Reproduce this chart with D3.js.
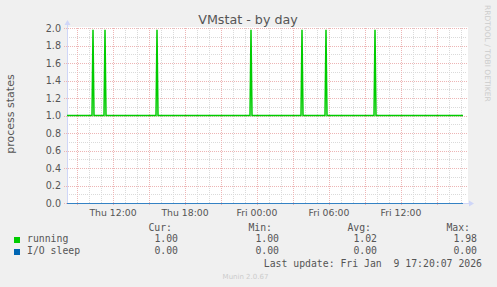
<!DOCTYPE html>
<html>
<head>
<meta charset="utf-8">
<script src="https://cdn.jsdelivr.net/npm/d3@7"></script>
<style>
  html, body { margin: 0; padding: 0; background: #F0F0F0; }
  svg { display: block; }
</style>
</head>
<body>
<svg id="chart" width="497" height="287"></svg>
<script>
// ---- data ----
const title = "VMstat - by day";
const yAxisLabel = "process states";
const seriesNames = ["running", "I/O sleep"];
const seriesColors = ["#00CC00", "#0066B3"];

const runningTimes = [
  "2026-01-08T08:10", "2026-01-08T10:15", "2026-01-08T10:20", "2026-01-08T10:25",
  "2026-01-08T11:15", "2026-01-08T11:20", "2026-01-08T11:25",
  "2026-01-08T15:35", "2026-01-08T15:40", "2026-01-08T15:45",
  "2026-01-08T23:25", "2026-01-08T23:30", "2026-01-08T23:35",
  "2026-01-09T03:40", "2026-01-09T03:45", "2026-01-09T03:50",
  "2026-01-09T05:40", "2026-01-09T05:45", "2026-01-09T05:50",
  "2026-01-09T09:45", "2026-01-09T09:50", "2026-01-09T09:55",
  "2026-01-09T17:10"
];
const runningValues = [
  1.00, 1.00, 1.98, 1.00,
  1.00, 1.98, 1.00,
  1.00, 1.98, 1.00,
  1.00, 1.98, 1.00,
  1.00, 1.98, 1.00,
  1.00, 1.98, 1.00,
  1.00, 1.98, 1.00,
  1.00
];
const ioSleepTimes = ["2026-01-08T08:10", "2026-01-09T17:10"];
const ioSleepValues = [0.00, 0.00];

const timeStart = "2026-01-08T08:10";
const timeEnd = "2026-01-09T17:30";
const yMin = 0, yMax = 2.0;

const yTickValues = [0.0, 0.2, 0.4, 0.6, 0.8, 1.0, 1.2, 1.4, 1.6, 1.8, 2.0];
const yTickLabels = ["0.0", "0.2", "0.4", "0.6", "0.8", "1.0", "1.2", "1.4", "1.6", "1.8", "2.0"];
const yMinorTicks = [0.1, 0.3, 0.5, 0.7, 0.9, 1.1, 1.3, 1.5, 1.7, 1.9];
const xTickTimes = ["2026-01-08T12:00", "2026-01-08T18:00", "2026-01-09T00:00", "2026-01-09T06:00", "2026-01-09T12:00"];
const xTickLabels = ["Thu 12:00", "Thu 18:00", "Fri 00:00", "Fri 06:00", "Fri 12:00"];

const legendHeaders = ["Cur:", "Min:", "Avg:", "Max:"];
const curValues = ["1.00", "0.00"];
const minValues = ["1.00", "0.00"];
const avgValues = ["1.02", "0.00"];
const maxValues = ["1.98", "0.00"];
const lastUpdate = "Last update: Fri Jan  9 17:20:07 2026";
const footer = "Munin 2.0.67";
const watermark = "RRDTOOL / TOBI OETIKER";

// ---- drawing ----
const parse = s => new Date(s + ":00Z");
const svg = d3.select("#chart");
const L = 67, R = 467, T = 28, B = 203;

const x = d3.scaleUtc().domain([parse(timeStart), parse(timeEnd)]).range([L, R]);
const y = d3.scaleLinear().domain([yMin, yMax]).range([B, T]);

const sansFont = "'DejaVu Sans', sans-serif";
const monoFont = "'DejaVu Sans Mono', monospace";
const textCol = "#555555";

// background
svg.append("rect").attr("width", 497).attr("height", 287).attr("fill", "#F0F0F0");
svg.append("rect").attr("x", L).attr("y", T - 1).attr("width", R - L + 1).attr("height", B - T + 1).attr("fill", "#FFFFFF");

const px = v => Math.round(v) + 0.5;
const grid = svg.append("g");
const minorCol = "#DADADA", majorCol = "#EDB5B5";

// minor vertical grid (hourly)
const hours = d3.utcHour.every(1).range(parse(timeStart), parse(timeEnd));
const majorHours = hours.filter(d => d.getUTCHours() % 3 === 0 && d.getUTCMinutes() === 0);
hours.filter(d => d.getUTCHours() % 3 !== 0).forEach(d => {
  grid.append("line").attr("x1", px(x(d))).attr("x2", px(x(d))).attr("y1", T).attr("y2", B)
    .attr("stroke", minorCol).attr("stroke-dasharray", "1,1");
});
// minor horizontal grid
yMinorTicks.forEach(v => {
  grid.append("line").attr("x1", L).attr("x2", R).attr("y1", px(y(v))).attr("y2", px(y(v)))
    .attr("stroke", minorCol).attr("stroke-dasharray", "1,1");
});
// major vertical grid
majorHours.forEach(d => {
  grid.append("line").attr("x1", px(x(d))).attr("x2", px(x(d))).attr("y1", T).attr("y2", B + 3)
    .attr("stroke", majorCol).attr("stroke-dasharray", "1,1");
});
// major horizontal grid
yTickValues.forEach(v => {
  grid.append("line").attr("x1", L - 3).attr("x2", R).attr("y1", px(y(v))).attr("y2", px(y(v)))
    .attr("stroke", majorCol).attr("stroke-dasharray", "1,1");
});

// axes
const axisCol = "#CFD6F8";
svg.append("line").attr("x1", L + 0.5).attr("x2", L + 0.5).attr("y1", B).attr("y2", T - 5).attr("stroke", axisCol);
svg.append("line").attr("x1", L).attr("x2", R + 3).attr("y1", B + 0.5).attr("y2", B + 0.5).attr("stroke", axisCol);
svg.append("path").attr("d", `M${L - 2.5},${T - 3} L${L + 3.5},${T - 3} L${L + 0.5},${T - 8} Z`).attr("fill", axisCol);
svg.append("path").attr("d", `M${R + 2},${B - 2.5} L${R + 2},${B + 3.5} L${R + 7},${B + 0.5} Z`).attr("fill", axisCol);

// series lines
const line = d3.line().x(d => x(d[0])).y(d => y(d[1]));
const runningData = runningTimes.map((t, i) => [parse(t), runningValues[i]]);
const ioData = ioSleepTimes.map((t, i) => [parse(t), ioSleepValues[i]]);
svg.append("path").attr("d", line(ioData)).attr("fill", "none")
  .attr("stroke", seriesColors[1]).attr("stroke-opacity", 0.75).attr("stroke-width", 1)
  .attr("transform", "translate(0,0.5)");
svg.append("path").attr("d", line(runningData)).attr("fill", "none")
  .attr("stroke", seriesColors[0]).attr("stroke-width", 1.5).attr("stroke-linejoin", "miter");

// y tick labels
yTickValues.forEach((v, i) => {
  svg.append("text").attr("x", 61).attr("y", y(v) + 3.6).attr("text-anchor", "end")
    .attr("font-family", sansFont).attr("font-size", "9.6px").attr("fill", textCol).text(yTickLabels[i]);
});
// x tick labels
xTickTimes.forEach((t, i) => {
  svg.append("text").attr("x", x(parse(t))).attr("y", 215.5).attr("text-anchor", "middle")
    .attr("font-family", sansFont).attr("font-size", "9.3px").attr("fill", textCol).text(xTickLabels[i]);
});

// title
svg.append("text").attr("x", 248).attr("y", 24).attr("text-anchor", "middle")
  .attr("font-family", sansFont).attr("font-size", "12.7px").attr("fill", textCol).text(title);
// y axis label
svg.append("text").attr("transform", "translate(14,114) rotate(-90)").attr("text-anchor", "middle")
  .attr("font-family", sansFont).attr("font-size", "11px").attr("fill", textCol).text(yAxisLabel);
// watermark
svg.append("text").attr("transform", "translate(485,5) rotate(90)").attr("text-anchor", "start")
  .attr("font-family", sansFont).attr("font-size", "7.5px").attr("fill", "#CCCCCC").text(watermark);

// legend
const lf = "9.8px";
const headerEnds = [172, 272, 371, 470];
const valueEnds = [178, 279, 377, 477];
legendHeaders.forEach((h, i) => {
  svg.append("text").attr("x", headerEnds[i]).attr("y", 231).attr("text-anchor", "end")
    .attr("font-family", monoFont).attr("font-size", lf).attr("fill", textCol).text(h);
});
const rowY = [242, 254];
const cols = [curValues, minValues, avgValues, maxValues];
seriesNames.forEach((name, r) => {
  svg.append("rect").attr("x", 14).attr("y", rowY[r] - 5).attr("width", 6).attr("height", 6).attr("fill", seriesColors[r]);
  svg.append("text").attr("x", 27).attr("y", rowY[r])
    .attr("font-family", monoFont).attr("font-size", lf).attr("fill", textCol).text(name);
  cols.forEach((c, i) => {
    svg.append("text").attr("x", valueEnds[i]).attr("y", rowY[r]).attr("text-anchor", "end")
      .attr("font-family", monoFont).attr("font-size", lf).attr("fill", textCol).text(c[r]);
  });
});
svg.append("text").attr("x", 482).attr("y", 266.5).attr("text-anchor", "end").attr("xml:space", "preserve")
  .style("white-space", "pre")
  .attr("font-family", monoFont).attr("font-size", lf).attr("fill", textCol).text(lastUpdate);
svg.append("text").attr("x", 245.5).attr("y", 279).attr("text-anchor", "middle")
  .attr("font-family", sansFont).attr("font-size", "7px").attr("fill", "#CCCCCC").text(footer);
</script>
</body>
</html>
